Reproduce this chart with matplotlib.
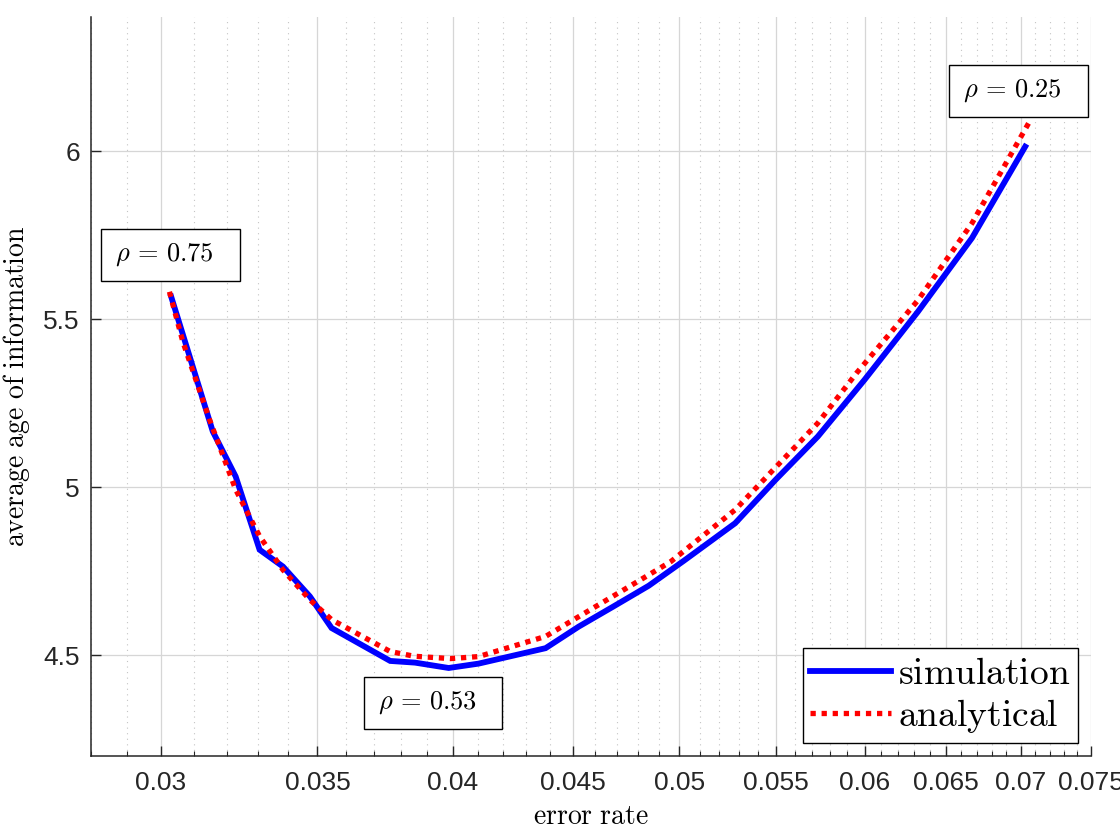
import numpy as np
import matplotlib
matplotlib.use("Agg")
import matplotlib.pyplot as plt
from matplotlib.patches import Rectangle
from matplotlib.ticker import FixedLocator, FixedFormatter, NullFormatter

plt.rcParams["font.family"] = ["Liberation Sans", "DejaVu Sans"]
plt.rcParams["mathtext.fontset"] = "cm"

# simulation curve (error rate vs average AoI)
sim_err = [0.0303, 0.03157, 0.03229, 0.03306, 0.03383, 0.03474, 0.03549, 0.0376,
           0.03853, 0.03983, 0.04102, 0.04382, 0.04527, 0.04682, 0.04851, 0.05021,
           0.05282, 0.05496, 0.0573, 0.0600, 0.06323, 0.0667, 0.07029]
sim_age = [5.568, 5.166, 5.032, 4.814, 4.764, 4.675, 4.581, 4.483,
           4.478, 4.462, 4.475, 4.521, 4.585, 4.644, 4.707, 4.781,
           4.893, 5.022, 5.151, 5.320, 5.522, 5.742, 6.014]

# analytical curve
ana_err = [0.03025, 0.03065, 0.03147, 0.03229, 0.03306, 0.03383, 0.03474, 0.03549,
           0.0376, 0.0385, 0.0399, 0.04102, 0.04382, 0.04813, 0.04958, 0.05282,
           0.0573, 0.05953, 0.06323, 0.0667, 0.07053]
ana_age = [5.582, 5.434, 5.201, 4.993, 4.854, 4.754, 4.665, 4.606,
           4.511, 4.497, 4.490, 4.496, 4.556, 4.725, 4.779, 4.933,
           5.191, 5.340, 5.556, 5.786, 6.084]

xticks = [0.03, 0.035, 0.04, 0.045, 0.05, 0.055, 0.06, 0.065, 0.07, 0.075]
xticklabels = ["0.03", "0.035", "0.04", "0.045", "0.05", "0.055", "0.06", "0.065", "0.07", "0.075"]
yticks = [4.5, 5, 5.5, 6]
yticklabels = ["4.5", "5", "5.5", "6"]

rho_labels = ["0.75", "0.53", "0.25"]
# text boxes, axes fraction (x0, y0, w, h)
rho_boxes = [(0.010, 0.6428, 0.139, 0.0704),
             (0.273, 0.0365, 0.138, 0.0704),
             (0.858, 0.8647, 0.139, 0.0704)]

INK = "#262626"

fig = plt.figure(figsize=(11.2, 8.4), dpi=100)
ax = fig.add_axes([91 / 1120, 84 / 840, 1000 / 1120, 739 / 840])

ax.set_xscale("log")
ax.set_xlim(0.028, 0.075)
ax.set_ylim(4.2, 6.4)

ax.plot(sim_err, sim_age, color="#0000ff", lw=4.2, solid_joinstyle="miter",
        label=r"$\mathrm{simulation}$", zorder=3)
ax.plot(ana_err, ana_age, color="#ff0000", lw=3.8, linestyle=(0, (1, 1.1)),
        dash_capstyle="butt", label=r"$\mathrm{analytical}$", zorder=4)

# ticks
ax.xaxis.set_major_locator(FixedLocator(xticks))
ax.xaxis.set_major_formatter(FixedFormatter(xticklabels))
minor = [v for v in np.arange(0.028, 0.0755, 0.001) if min(abs(v - t) for t in xticks) > 1e-6]
ax.xaxis.set_minor_locator(FixedLocator(minor))
ax.xaxis.set_minor_formatter(NullFormatter())
ax.set_yticks(yticks)
ax.set_yticklabels(yticklabels)

ax.tick_params(axis="both", which="major", direction="in", length=7, width=1,
               colors=INK, labelsize=19)
ax.tick_params(axis="x", which="major", pad=11)
ax.tick_params(axis="y", which="major", pad=8)
ax.tick_params(axis="x", which="minor", direction="in", length=3.5, width=0.8, color=INK)
ax.tick_params(axis="y", which="minor", left=False)

ax.grid(True, which="major", color="#d6d6d6", lw=0.9)
ax.grid(True, which="minor", axis="x", color="#c4c4c4", lw=0.8, linestyle=(0, (1, 4)))
ax.set_axisbelow(True)

for s in ["top", "right"]:
    ax.spines[s].set_visible(False)
for s in ["left", "bottom"]:
    ax.spines[s].set_color(INK)
    ax.spines[s].set_linewidth(1.1)

ax.set_xlabel(r"$\mathrm{error\ rate}$", fontsize=20, labelpad=6)
ax.set_ylabel(r"$\mathrm{average\ age\ of\ information}$", fontsize=20, labelpad=8)

for lab, (bx, by, bw, bh) in zip(rho_labels, rho_boxes):
    ax.add_patch(Rectangle((bx, by), bw, bh, transform=ax.transAxes, facecolor="white",
                           edgecolor="black", lw=1, zorder=5))
    ax.text(bx + 0.014, by + bh / 2, r"$\rho\,=\," + lab + "$", transform=ax.transAxes,
            fontsize=19, ha="left", va="center", zorder=6)

leg = ax.legend(loc="lower right", fontsize=27, frameon=True, fancybox=False,
                edgecolor="black", framealpha=1, borderpad=0.2, handlelength=2.15,
                handletextpad=0.2, labelspacing=0.15, borderaxespad=0.35)
leg.get_frame().set_linewidth(1)

fig.savefig("out.png", dpi=100, facecolor="white")
plt.close(fig)
